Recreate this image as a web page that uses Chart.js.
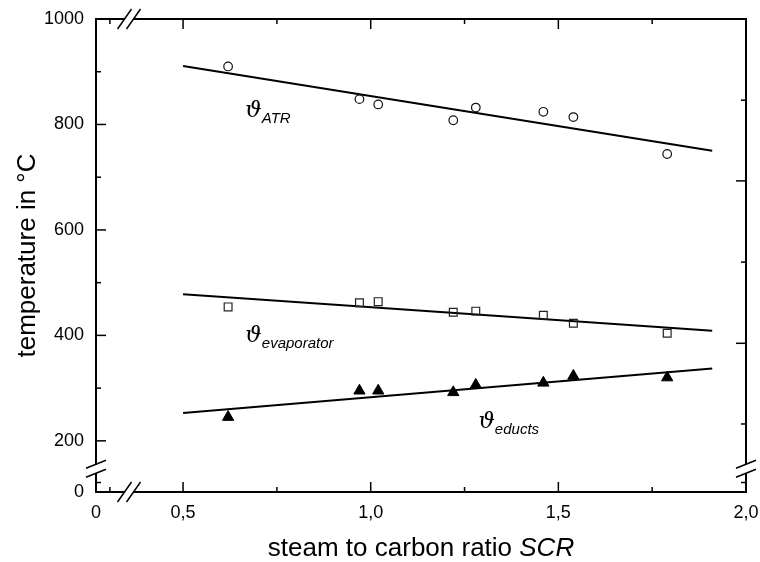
<!doctype html>
<html>
<head>
<meta charset="utf-8">
<title>Temperatures vs SCR</title>
<script src="https://cdn.jsdelivr.net/npm/chart.js@4"></script>
<style>
  html, body { margin: 0; padding: 0; background: #fff; }
  canvas { display: block; }
</style>
</head>
<body>
<canvas id="canvas" width="760" height="562"></canvas>
<script>
// measured points
var scr      = [0.62, 0.97, 1.02, 1.22, 1.28, 1.46, 1.54, 1.79];
var tATR     = [910, 848, 838, 808, 832, 824, 814, 744];
var tEvap    = [454, 462, 464, 444, 446, 438, 423, 404];
var tEducts  = [245, 295, 295, 292, 306, 310, 323, 320];

// regression lines (end points)
var fitX      = [0.5, 1.91];
var fitATR    = [911, 750];
var fitEvap   = [478, 409];
var fitEducts = [253, 337];

// broken axes: the lowest value is labelled "0"
var xMin = 0.268, xMax = 2.0;
var yMin = 103, yMax = 1000;
var xTickVals = [0.268, 0.5, 1.0, 1.5, 2.0];
var xTickLabels = ['0', '0,5', '1,0', '1,5', '2,0'];
var yTickVals = [103, 200, 400, 600, 800, 1000];
var yTickLabels = ['0', '200', '400', '600', '800', '1000'];

var xMajor = [0.5, 1.0, 1.5];
var xMinor = [0.305, 0.75, 1.25, 1.75];
var yMajorL = [200, 400, 600, 800];
var yMinorL = [121, 300, 500, 700, 900];
var yMajorR = [693, 385];
var yMinorR = [846, 539, 232, 121];
var xBreak = 0.356, yBreak = 147;

// curve labels (data coords of the symbol's baseline start)
var symLabels = [
  { x: 0.666, y: 814, sub: 'ATR' },
  { x: 0.666, y: 387, sub: 'evaporator' },
  { x: 1.287, y: 224, sub: 'educts' }
];

function pts(xs, ys) {
  return xs.map(function (x, i) { return { x: x, y: ys[i] }; });
}

var FONT = '"Liberation Sans", Arial, sans-serif';

var frame = {
  id: 'frame',
  afterDraw: function (chart) {
    var ctx = chart.ctx, a = chart.chartArea;
    var xs = chart.scales.x, ys = chart.scales.y;
    ctx.save();
    ctx.strokeStyle = '#000';
    ctx.lineCap = 'butt';
    ctx.lineWidth = 2;
    ctx.strokeRect(a.left, a.top, a.right - a.left, a.bottom - a.top);

    ctx.lineWidth = 1.5;
    function hTick(x, y0, len) { ctx.beginPath(); ctx.moveTo(x, y0); ctx.lineTo(x, y0 + len); ctx.stroke(); }
    function vTick(y, x0, len) { ctx.beginPath(); ctx.moveTo(x0, y); ctx.lineTo(x0 + len, y); ctx.stroke(); }
    xMajor.forEach(function (v) { var p = xs.getPixelForValue(v); hTick(p, a.bottom, -10); hTick(p, a.top, 10); });
    xMinor.forEach(function (v) { var p = xs.getPixelForValue(v); hTick(p, a.bottom, -5); hTick(p, a.top, 5); });
    yMajorL.forEach(function (v) { vTick(ys.getPixelForValue(v), a.left, 10); });
    yMinorL.forEach(function (v) { vTick(ys.getPixelForValue(v), a.left, 5); });
    yMajorR.forEach(function (v) { vTick(ys.getPixelForValue(v), a.right, -10); });
    yMinorR.forEach(function (v) { vTick(ys.getPixelForValue(v), a.right, -5); });

    // axis breaks
    var bx = xs.getPixelForValue(xBreak), by = ys.getPixelForValue(yBreak);
    ctx.fillStyle = '#fff';
    [a.bottom, a.top].forEach(function (yy) {
      ctx.fillRect(bx - 4.5, yy - 1.5, 9, 3);
      ctx.beginPath();
      ctx.moveTo(bx - 4.5 - 7, yy + 10); ctx.lineTo(bx - 4.5 + 7, yy - 10);
      ctx.moveTo(bx + 4.5 - 7, yy + 10); ctx.lineTo(bx + 4.5 + 7, yy - 10);
      ctx.stroke();
    });
    [a.left, a.right].forEach(function (xx) {
      ctx.fillRect(xx - 1.5, by - 4.5, 3, 9);
      ctx.beginPath();
      ctx.moveTo(xx - 10, by + 4.5 + 4); ctx.lineTo(xx + 10, by + 4.5 - 4);
      ctx.moveTo(xx - 10, by - 4.5 + 4); ctx.lineTo(xx + 10, by - 4.5 - 4);
      ctx.stroke();
    });

    // curve labels
    ctx.fillStyle = '#000';
    ctx.textBaseline = 'alphabetic';
    ctx.textAlign = 'left';
    symLabels.forEach(function (l) {
      var px = xs.getPixelForValue(l.x), py = ys.getPixelForValue(l.y);
      ctx.font = 'italic 23px "DejaVu Serif", serif';
      ctx.fillText('\u03D1', px, py);
      var w = ctx.measureText('\u03D1').width;
      ctx.font = 'italic 15px ' + FONT;
      ctx.fillText(l.sub, px + w, py + 6);
    });

    // axis titles
    var cx = (a.left + a.right) / 2, cy = (a.top + a.bottom) / 2;
    ctx.font = '26px ' + FONT;
    var t1 = 'steam to carbon ratio ';
    var w1 = ctx.measureText(t1).width;
    ctx.font = 'italic 26px ' + FONT;
    var w2 = ctx.measureText('SCR').width;
    var x0 = cx - (w1 + w2) / 2;
    ctx.font = '26px ' + FONT;
    ctx.fillText(t1, x0, 556);
    ctx.font = 'italic 26px ' + FONT;
    ctx.fillText('SCR', x0 + w1, 556);

    ctx.translate(28, cy);
    ctx.rotate(-Math.PI / 2);
    ctx.font = '26px ' + FONT;
    ctx.textAlign = 'center';
    ctx.textBaseline = 'middle';
    ctx.fillText('temperature in \u00B0C', 0, 0);
    ctx.restore();
  }
};

function fitLine(ys) {
  return {
    data: pts(fitX, ys), showLine: true, borderColor: '#000', borderWidth: 2,
    pointRadius: 0, fill: false
  };
}

var ctx = document.getElementById('canvas').getContext('2d');
new Chart(ctx, {
  type: 'scatter',
  data: {
    datasets: [
      { data: pts(scr, tATR), pointStyle: 'circle', pointRadius: 4.3, borderWidth: 1.2,
        borderColor: '#111', backgroundColor: 'rgba(0,0,0,0)' },
      { data: pts(scr, tEvap), pointStyle: 'rect', pointRadius: 5.5, borderWidth: 1.2,
        borderColor: '#222', backgroundColor: 'rgba(0,0,0,0)' },
      { data: pts(scr, tEducts), pointStyle: 'triangle', pointRadius: 6.5, borderWidth: 1,
        borderColor: '#000', backgroundColor: '#000' },
      fitLine(fitATR),
      fitLine(fitEvap),
      fitLine(fitEducts)
    ]
  },
  options: {
    responsive: false,
    animation: false,
    layout: { padding: { top: 19, right: 14, left: 0, bottom: 0 } },
    plugins: { legend: { display: false }, tooltip: { enabled: false } },
    scales: {
      x: {
        type: 'linear', min: xMin, max: xMax,
        afterFit: function (s) { s.height = 70; s.paddingLeft = 0; s.paddingRight = 0; },
        afterBuildTicks: function (s) { s.ticks = xTickVals.map(function (v) { return { value: v }; }); },
        grid: { display: false, drawTicks: false },
        border: { display: false },
        ticks: {
          padding: 10, color: '#000', font: { family: FONT, size: 18 }, maxRotation: 0,
          callback: function (v, i) { return xTickLabels[i]; }
        }
      },
      y: {
        type: 'linear', min: yMin, max: yMax,
        afterFit: function (s) { s.width = 96; s.paddingTop = 0; s.paddingBottom = 0; },
        afterBuildTicks: function (s) { s.ticks = yTickVals.map(function (v) { return { value: v }; }); },
        grid: { display: false, drawTicks: false },
        border: { display: false },
        ticks: {
          padding: 12, color: '#000', font: { family: FONT, size: 18 },
          callback: function (v, i) { return yTickLabels[i]; }
        }
      }
    }
  },
  plugins: [frame]
});
</script>
</body>
</html>
